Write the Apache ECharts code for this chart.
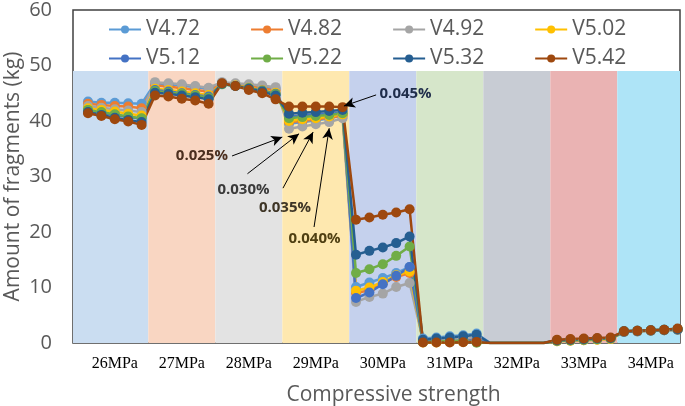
<!DOCTYPE html>
<html><head><meta charset="utf-8">
<script src="https://cdn.jsdelivr.net/npm/echarts@6/dist/echarts.min.js"></script>
<style>html,body{margin:0;padding:0;background:#fff}#c{width:685px;height:406px}</style>
</head><body><div id="c"></div>
<script>
// ---- data ----
const groups = ['26MPa','27MPa','28MPa','29MPa','30MPa','31MPa','32MPa','33MPa','34MPa'];
const fiberLevels = ['0.025%','0.030%','0.035%','0.040%','0.045%'];
const seriesNames = ['V4.72','V4.82','V4.92','V5.02','V5.12','V5.22','V5.32','V5.42'];
const yTicks = [0,10,20,30,40,50,60];

const V472 = [43.5,43.3,43.3,43.2,43.1, 46.8,46.6,46.4,46.1,45.8, 46.9,46.6,46.4,46.1,45.8, 39.5,39.8,40.1,40.5,41.0, 10.1,10.9,11.7,12.6,13.7, 0.8,1.0,1.2,1.4,1.7, 0,0,0,0,0, 0.4,0.5,0.6,0.7,0.8, 2.1,2.2,2.3,2.4,2.5];
const V482 = [43.1,42.9,42.7,42.6,42.3, 46.4,46.2,45.9,45.6,45.3, 46.8,46.5,46.2,45.9,45.5, 39.8,40.0,40.3,40.6,41.0, 9.0,9.5,10.8,11.9,12.6, 0.3,0.4,0.4,0.5,0.6, 0,0,0,0,0, 0.4,0.5,0.6,0.7,0.8, 2.0,2.1,2.2,2.3,2.4];
const V492 = [42.7,42.4,42.1,41.9,41.6, 47.0,46.8,46.6,46.3,46.0, 47.0,46.8,46.6,46.4,46.1, 38.6,39.0,39.4,39.8,40.5, 7.4,8.3,8.9,10.1,10.8, 0.5,0.6,0.7,0.8,1.0, 0,0,0,0,0, 0.3,0.4,0.5,0.6,0.7, 2.1,2.2,2.2,2.3,2.4];
const V502 = [42.3,42.0,41.7,41.3,41.0, 45.8,45.6,45.3,45.0,44.7, 46.7,46.4,46.0,45.6,45.1, 40.0,40.3,40.5,40.8,41.2, 9.4,10.0,11.0,12.2,12.9, 0.1,0.1,0.2,0.2,0.3, 0,0,0,0,0, 0.3,0.4,0.5,0.6,0.7, 2.0,2.1,2.2,2.3,2.4];
const V512 = [41.9,41.5,41.1,40.7,40.4, 45.6,45.3,45.0,44.7,44.4, 46.7,46.3,45.9,45.5,44.9, 40.8,41.0,41.2,41.3,41.5, 8.1,9.1,10.6,12.1,13.7, 0.2,0.3,0.3,0.4,0.5, 0,0,0,0,0, 0.4,0.5,0.6,0.7,0.8, 2.0,2.1,2.2,2.3,2.4];
const V522 = [42.0,41.6,41.2,40.8,40.5, 45.4,45.1,44.9,44.6,44.2, 46.6,46.3,45.9,45.4,44.8, 40.5,40.7,40.9,41.1,41.4, 12.6,13.3,14.2,15.7,17.4, 0.2,0.3,0.3,0.4,0.05, 0,0,0,0,0, 0.4,0.5,0.6,0.7,0.8, 2.1,2.2,2.3,2.4,2.5];
const V532 = [41.6,41.1,40.6,40.2,39.8, 45.1,44.9,44.6,44.3,43.9, 46.7,46.3,45.8,45.3,44.6, 41.3,41.5,41.6,41.8,42.0, 15.9,16.6,17.2,18.0,19.2, 0.6,0.8,1.0,1.2,1.5, 0,0,0,0,0, 0.5,0.6,0.7,0.8,0.9, 2.1,2.2,2.3,2.4,2.5];
const V542 = [41.4,40.9,40.3,39.9,39.3, 44.6,44.4,44.0,43.7,43.1, 46.8,46.3,45.6,45.0,43.9, 42.6,42.6,42.6,42.6,42.5, 22.2,22.6,23.1,23.5,24.1, 0.1,0.1,0.1,0.15,0.2, 0,0,0,0,0, 0.6,0.7,0.8,0.9,1.0, 2.1,2.2,2.3,2.4,2.6];
const seriesValues = [V472,V482,V492,V502,V512,V522,V532,V542];

// annotations: fibre content labels (data coords: text anchor, arrow tail, arrow head)
const annLabels = ['0.025%','0.030%','0.035%','0.040%','0.045%'];
const annText = [[8.5,33.7],[11.6,27.7],[14.7,24.3],[16.9,18.7],[23.7,44.9]];
const annTail = [[10.75,33.7],[11.9,30.5],[14.55,27.9],[16.87,20.9],[21.5,44.7]];
const annHead = [[14.5,37.1],[15.75,37.7],[16.8,38.0],[18.0,38.7],[19.1,42.7]];

// ---- styles ----
const colors = ['#5B9BD5','#ED7D31','#A5A5A5','#FFC000','#4472C4','#70AD47','#255E91','#9E480E'];
const bandColors = ['#CADDF1','#F9D6C2','#E3E3E3','#FEE8AF','#C5D1ED','#D6E6CA','#C8CCD4','#EAB3B3','#AEE4F7'];
const annColors = ['#4B2E1E','#3A3A3A','#3E3526','#4F3F12','#1F2D4A'];
const X_MIN = -1.12, X_MAX = 44.18, BAND_TOP = 49;
const UI = "'Open Sans', sans-serif";
const PER = fiberLevels.length;

const chart = echarts.init(document.getElementById('c'), null, {renderer: 'canvas'});

const bands = groups.map((g, k) => [
  {xAxis: k === 0 ? X_MIN : k * PER - 0.5, yAxis: 0, itemStyle: {color: bandColors[k]}},
  {xAxis: k === groups.length - 1 ? X_MAX : k * PER + PER - 0.5, yAxis: BAND_TOP}
]);

const lineSeries = seriesNames.map((n, i) => ({
  name: n, type: 'line', z: 3,
  data: seriesValues[i].map((v, j) => [j, v]),
  symbol: 'circle',
  symbolSize: (val) => val[1] === 0 ? 0 : 10,
  lineStyle: {width: 2.5, color: colors[i]},
  itemStyle: {color: colors[i]},
  emphasis: {disabled: true},
  animation: false
}));

const legendCommon = {
  left: 108, itemWidth: 32, itemHeight: 10, itemGap: 50, padding: 0,
  textStyle: {fontFamily: UI, fontSize: 21, color: '#595959', width: 64},
  selectedMode: false
};

chart.setOption({
  backgroundColor: '#fff',
  animation: false,
  color: colors,
  grid: {left: 73, right: 5, top: 10, bottom: 63, outerBoundsMode: 'none', containLabel: false,
         show: true, borderColor: '#404040', borderWidth: 1.5, backgroundColor: '#fff'},
  legend: [
    Object.assign({data: seriesNames.slice(0, 4), top: 19}, legendCommon),
    Object.assign({data: seriesNames.slice(4), top: 48}, legendCommon)
  ],
  xAxis: {
    type: 'value', min: X_MIN, max: X_MAX,
    axisLine: {show: false}, axisTick: {show: false}, splitLine: {show: false},
    axisLabel: {
      customValues: groups.map((g, k) => k * PER + (PER - 1) / 2),
      formatter: (v) => groups[Math.round((v - (PER - 1) / 2) / PER)] || '',
      fontFamily: "'Liberation Serif', serif", fontSize: 16, color: '#000', margin: 13
    },
    name: 'Compressive strength', nameLocation: 'middle', nameGap: 42, nameMoveOverlap: false,
    nameTextStyle: {fontFamily: UI, fontSize: 21, color: '#595959', padding: [0, 0, 0, 34]}
  },
  yAxis: {
    type: 'value', min: yTicks[0], max: yTicks[yTicks.length - 1], interval: 10,
    axisLine: {show: false}, axisTick: {show: false}, splitLine: {show: false},
    axisLabel: {fontFamily: UI, fontSize: 20, color: '#595959', margin: 21},
    name: 'Amount of fragments (kg)', nameLocation: 'middle', nameGap: 49, nameMoveOverlap: false,
    nameTextStyle: {fontFamily: UI, fontSize: 21, color: '#595959'}
  },
  series: [
    {type: 'line', name: '_bands', data: [], z: 1, silent: true,
     markArea: {silent: true, data: bands, label: {show: false}}}
  ].concat(lineSeries).concat([
    {type: 'line', name: '_ann', data: [], z: 10, silent: true,
     markLine: {
       silent: true, symbol: ['none', 'arrow'], symbolSize: [8, 11], animation: false,
       lineStyle: {color: '#000', width: 1, type: 'solid'}, label: {show: false},
       data: annTail.map((t, i) => [{coord: t}, {coord: annHead[i]}])
     },
     markPoint: {
       silent: true, symbol: 'rect', symbolSize: 1, itemStyle: {color: 'rgba(0,0,0,0)'},
       data: annText.map((p, i) => ({coord: p, value: annLabels[i],
         label: {show: true, position: 'inside', formatter: annLabels[i], color: annColors[i],
                 fontFamily: UI, fontWeight: 'bold', fontSize: 15}}))
     }}
  ])
});
</script></body></html>
